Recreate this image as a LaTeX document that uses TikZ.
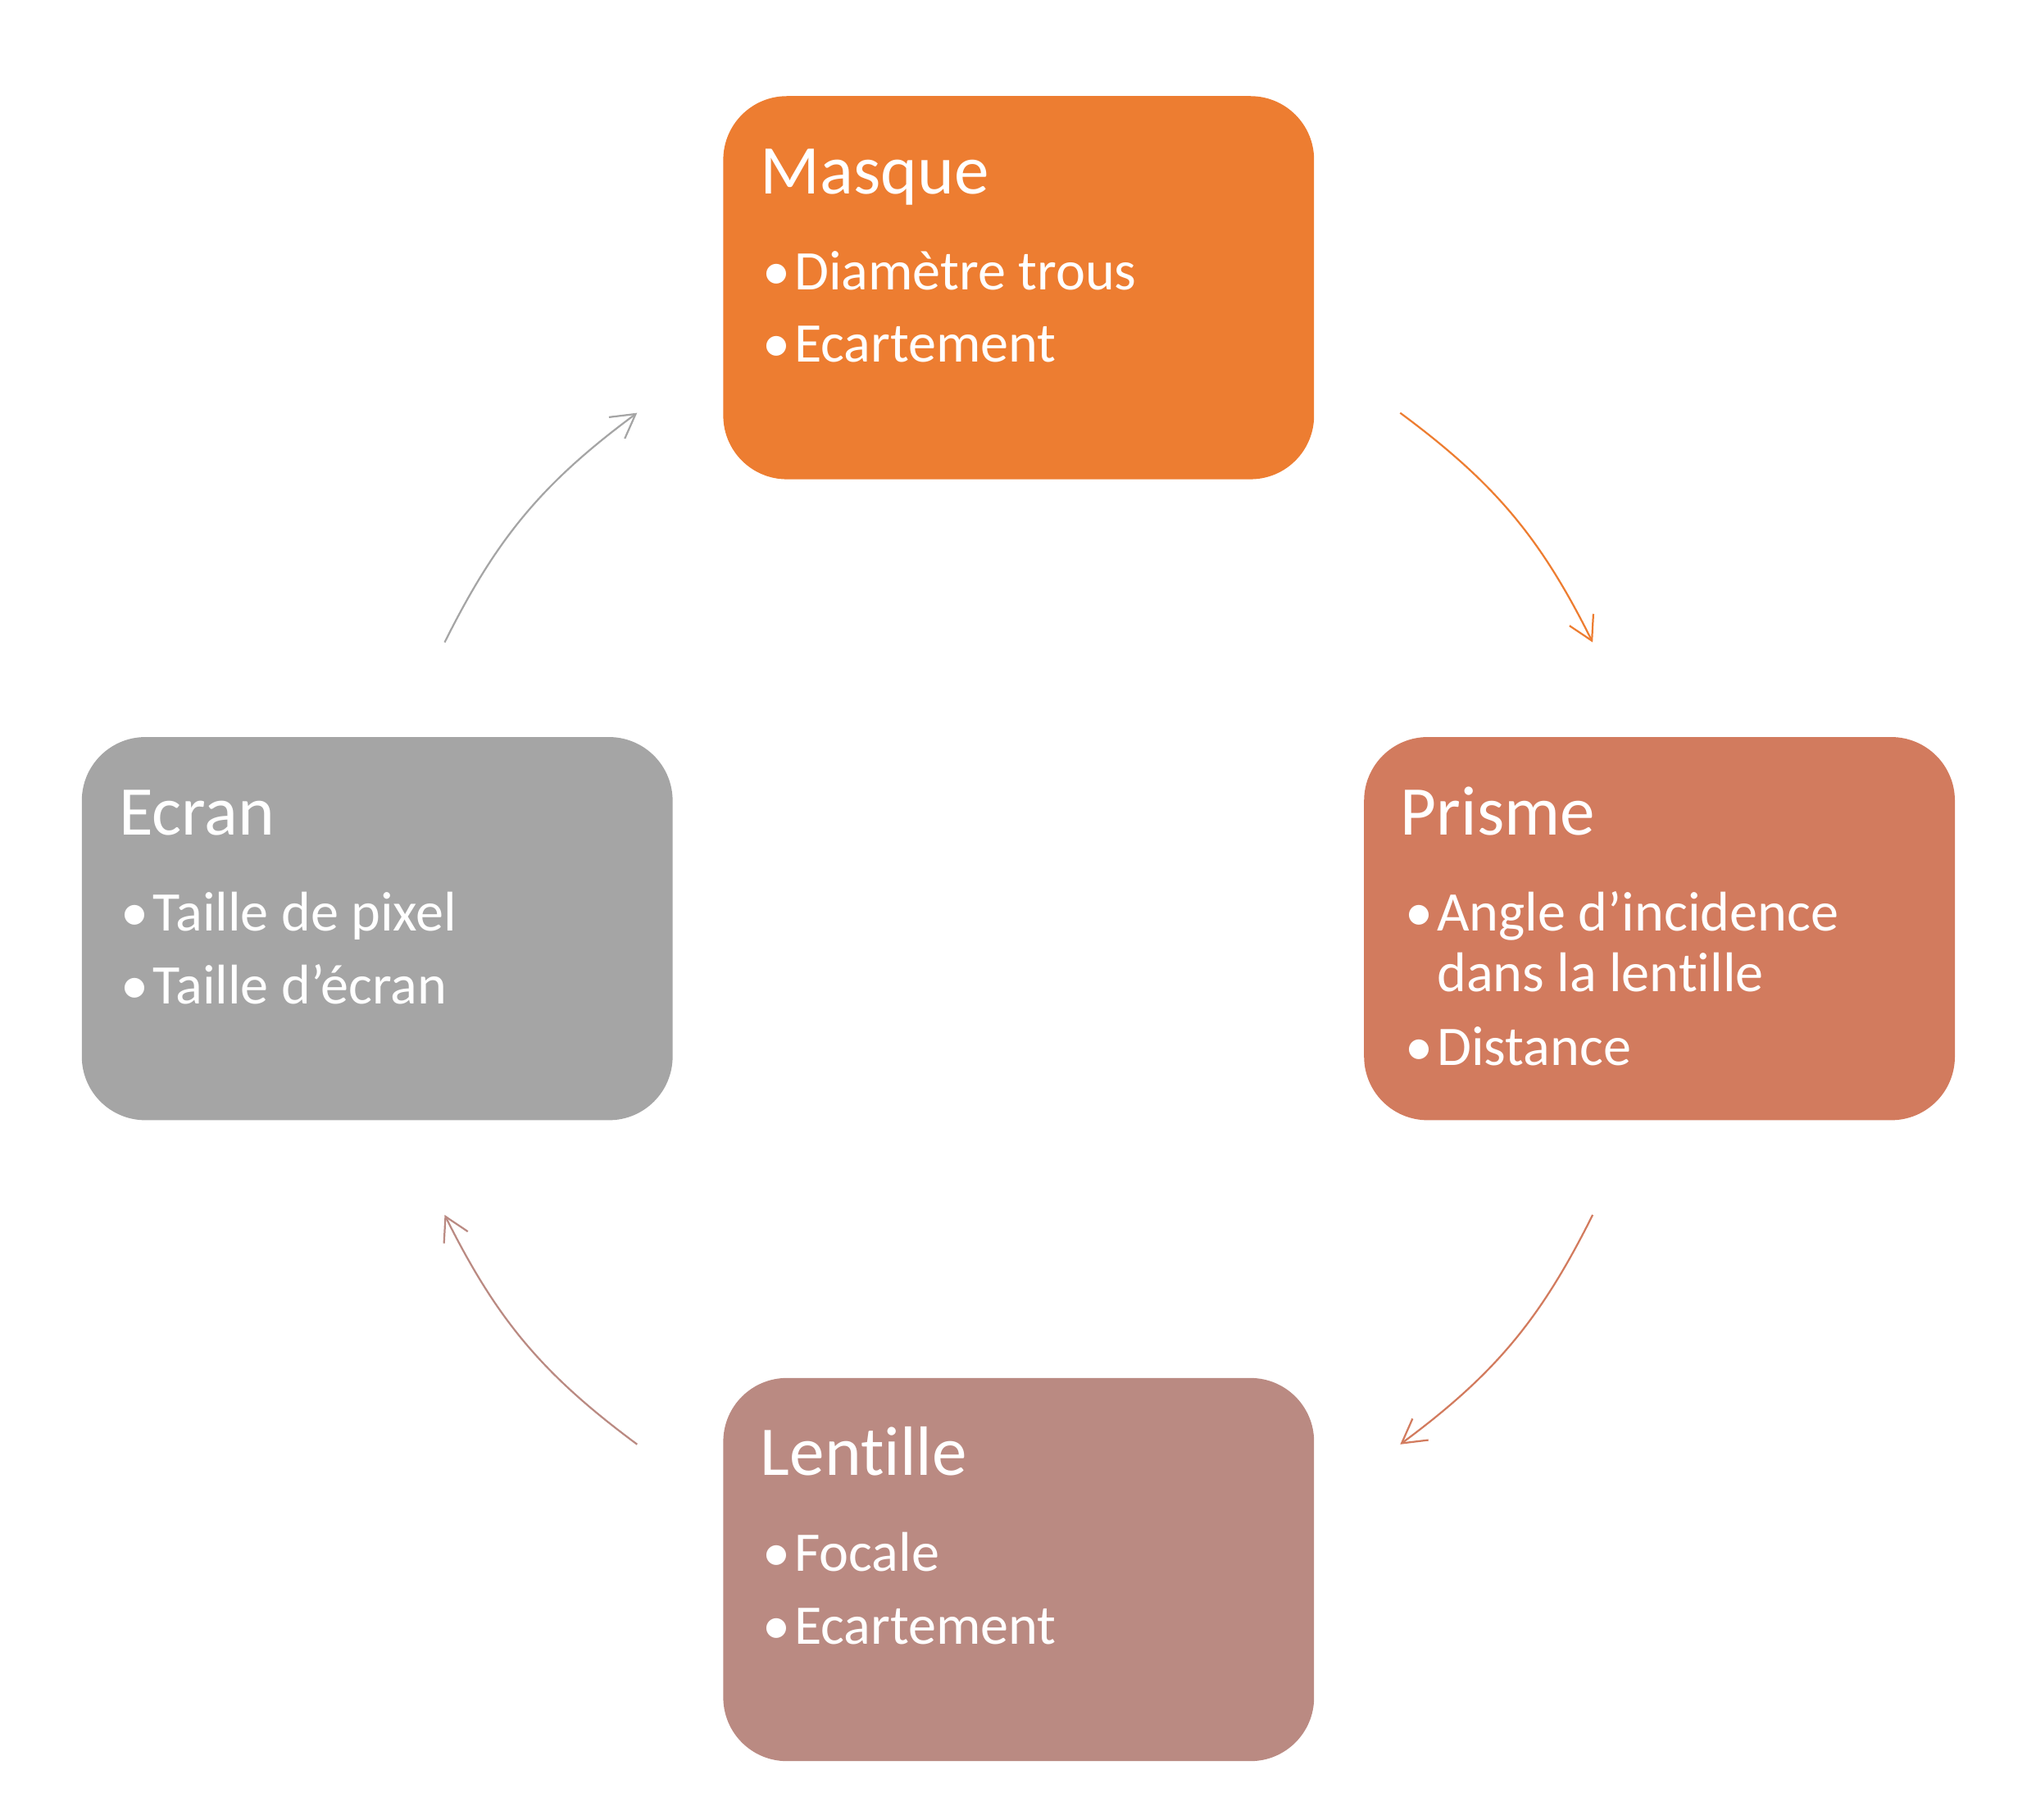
\documentclass[tikz,border=0pt]{standalone}
\usepackage{fontspec}
\setmainfont{Carlito}[RawFeature={-liga;-clig;-calt;-dlig}]
\usepackage{tikz}
\usetikzlibrary{positioning,shapes,arrows.meta}
\usepackage{xcolor}
\definecolor{masque}{HTML}{ED7D31}
\definecolor{prisme}{HTML}{D27B5E}
\definecolor{lentille}{HTML}{BA8A82}
\definecolor{ecran}{HTML}{A5A5A5}

\begin{document}
\begin{tikzpicture}[
  box/.style={shape=rectangle,rounded corners=0.49cm,minimum width=4.55cm,minimum height=2.95cm,inner sep=0pt},
  ttl/.style={anchor=base west,inner sep=0pt,text=white,font=\fontsize{15.3}{18}\selectfont},
  itm/.style={anchor=base west,inner sep=0pt,text=white,font=\fontsize{12.25}{15}\selectfont},
  cyc/.style={-{Straight Barb[length=1.8mm,width=2.05mm]},line width=0.4pt}
]
\useasboundingbox (0,0) rectangle (15.68,-14.013);
\node[box,fill=masque] (M) at (7.845,-2.215) {};
\node[ttl] (Mt) at (5.85,-1.49) {Masque};
\node[itm] (Mba) at (5.865,-2.23) {•};
\node[itm] (Ma) at (6.11,-2.23) {Diamètre trous};
\node[itm] (Mbb) at (5.865,-2.79) {•};
\node[itm] (Mb) at (6.11,-2.79) {Ecartement};
\node[box,fill=prisme] (P) at (12.78,-7.15) {};
\node[ttl] (Pt) at (10.78,-6.43) {Prisme};
\node[itm] (Pba) at (10.815,-7.17) {•};
\node[itm] (Pa) at (11.06,-7.17) {Angle d’incidence};
\node[itm] (Paa) at (11.06,-7.635) {dans la lentille};
\node[itm] (Pbb) at (10.815,-8.20) {•};
\node[itm] (Pb) at (11.06,-8.20) {Distance};
\node[box,fill=lentille] (L) at (7.845,-12.085) {};
\node[ttl] (Lt) at (5.85,-11.36) {Lentille};
\node[itm] (Lba) at (5.865,-12.10) {•};
\node[itm] (La) at (6.11,-12.10) {Focale};
\node[itm] (Lbb) at (5.865,-12.66) {•};
\node[itm] (Lb) at (6.11,-12.66) {Ecartement};
\node[box,fill=ecran] (E) at (2.905,-7.15) {};
\node[ttl] (Et) at (0.91,-6.43) {Ecran};
\node[itm] (Eba) at (0.925,-7.17) {•};
\node[itm] (Ea) at (1.17,-7.17) {Taille de pixel};
\node[itm] (Ebb) at (0.925,-7.73) {•};
\node[itm] (Eb) at (1.17,-7.73) {Taille d’écran};
% cycle arrows
\coordinate (c) at (7.845,-7.15);
\coordinate (a1) at ([shift={(53.5:4.94)}]c);
\coordinate (a2) at ([shift={(26.5:4.94)}]c);
\coordinate (a3) at ([shift={(-26.5:4.94)}]c);
\coordinate (a4) at ([shift={(-53.5:4.94)}]c);
\coordinate (a5) at ([shift={(233.5:4.94)}]c);
\coordinate (a6) at ([shift={(206.5:4.94)}]c);
\coordinate (a7) at ([shift={(153.5:4.94)}]c);
\coordinate (a8) at ([shift={(126.5:4.94)}]c);
\draw[cyc,masque] (a1) to[bend left=13.5] (a2);
\draw[cyc,prisme] (a3) to[bend left=13.5] (a4);
\draw[cyc,lentille] (a5) to[bend left=13.5] (a6);
\draw[cyc,ecran] (a7) to[bend left=13.5] (a8);
\end{tikzpicture}
\end{document}
